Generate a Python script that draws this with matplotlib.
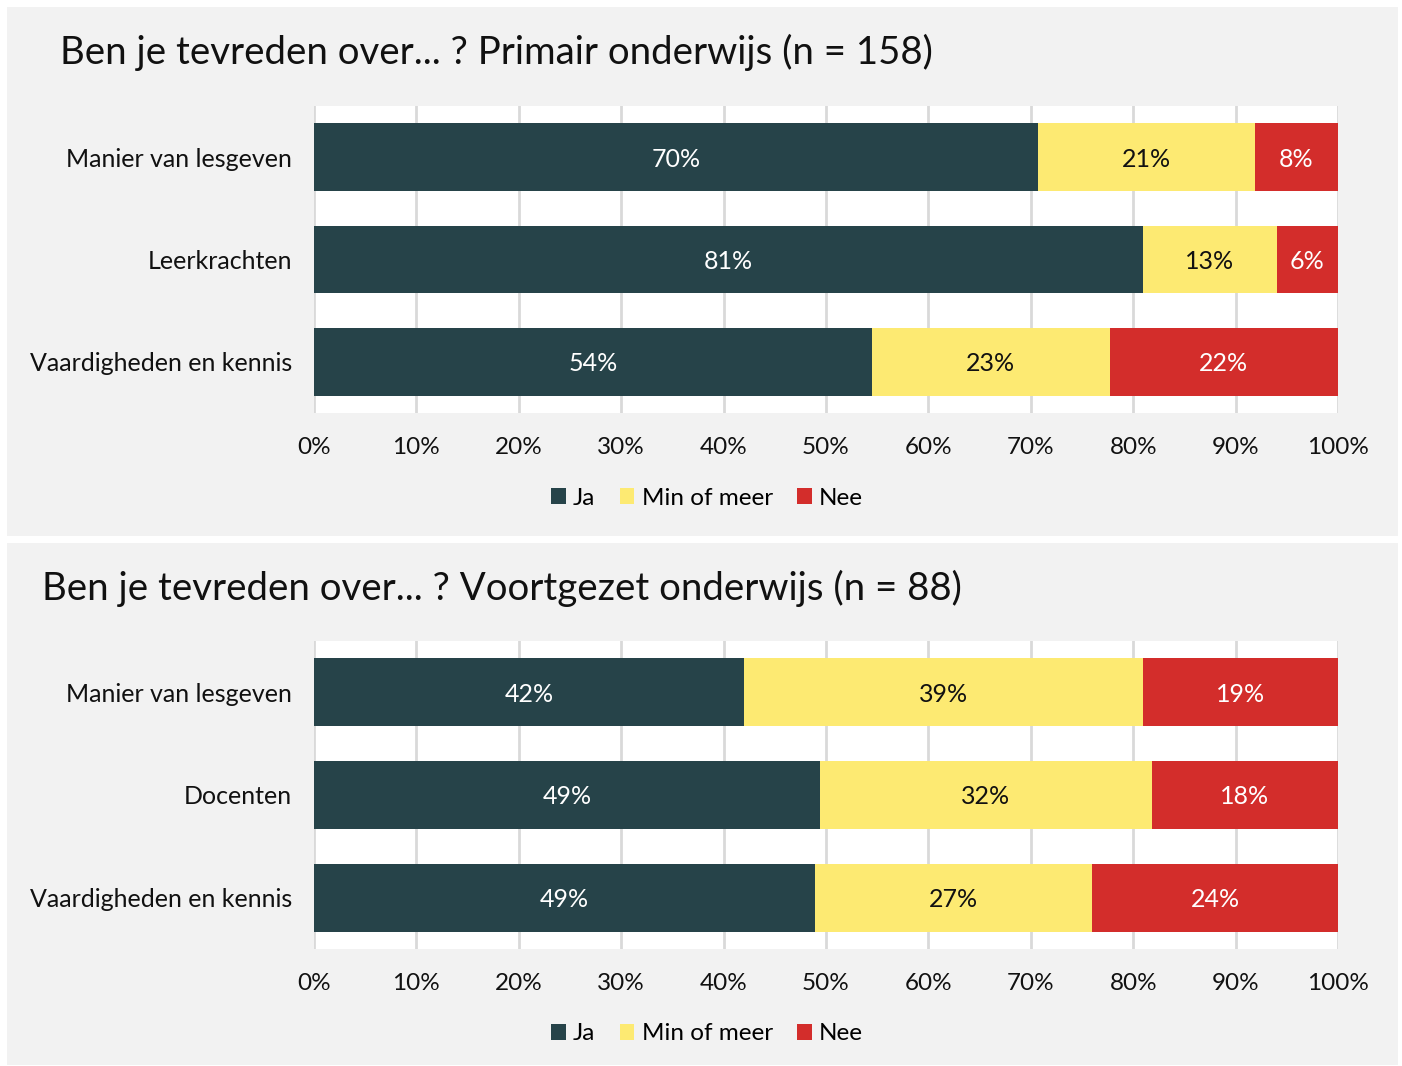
import numpy as np
import matplotlib.pyplot as plt
from matplotlib.patches import Rectangle

plt.rcParams['font.family'] = ['Lato', 'DejaVu Sans']

series = ["Ja", "Min of meer", "Nee"]
colors = ["#264349", "#fdea72", "#d32d2b"]
text_colors = ["white", "#111111", "white"]

# Primair onderwijs
po_title = "Ben je tevreden over... ? Primair onderwijs (n = 158)"
po_cats = ["Manier van lesgeven", "Leerkrachten", "Vaardigheden en kennis"]
po_ja = [70.7, 81.0, 54.5]
po_min = [21.2, 13.0, 23.2]
po_nee = [8.1, 6.0, 22.3]
po_labels = [["70%", "81%", "54%"], ["21%", "13%", "23%"], ["8%", "6%", "22%"]]

# Voortgezet onderwijs
vo_title = "Ben je tevreden over... ? Voortgezet onderwijs (n = 88)"
vo_cats = ["Manier van lesgeven", "Docenten", "Vaardigheden en kennis"]
vo_ja = [42.0, 49.4, 48.9]
vo_min = [39.0, 32.4, 27.1]
vo_nee = [19.0, 18.2, 24.0]
vo_labels = [["42%", "49%", "49%"], ["39%", "32%", "27%"], ["19%", "18%", "24%"]]

W, H = 1402, 1066
fig = plt.figure(figsize=(W / 100, H / 100), dpi=100)
fig.patch.set_facecolor("white")


def fx(px):
    return px / W


def fy(py):
    return 1 - py / H


def draw_panel(top, bottom, ax_top, ax_bottom, title, title_x, title_y, cats, vals, labels, legend_y):
    fig.patches.append(Rectangle((fx(7), fy(bottom)), fx(1398 - 7), (bottom - top) / H,
                                 transform=fig.transFigure, facecolor="#f2f2f2",
                                 edgecolor="none", zorder=-5))
    fig.text(fx(title_x), fy(title_y), title, fontsize=27.6, va="center", ha="left", color="#111111")
    ax = fig.add_axes([fx(314), fy(ax_bottom), fx(1338 - 314), (ax_bottom - ax_top) / H])
    ax.set_facecolor("white")
    y = np.arange(len(cats))
    left = np.zeros(len(cats))
    handles = []
    for i, v in enumerate(vals):
        v = np.array(v)
        b = ax.barh(y, v, left=left, height=0.66, color=colors[i], label=series[i], zorder=3)
        handles.append(b)
        for j in range(len(cats)):
            ax.text(left[j] + v[j] / 2, y[j], labels[i][j], ha="center", va="center_baseline",
                    fontsize=18, color=text_colors[i], zorder=4)
        left += v
    ax.set_xlim(0, 100)
    ax.set_ylim(len(cats) - 0.5, -0.5)
    ax.set_yticks(y)
    ax.set_yticklabels(cats, fontsize=18, color="#111111")
    ax.set_xticks(np.arange(0, 101, 10))
    ax.set_xticklabels([f"{t}%" for t in range(0, 101, 10)], fontsize=17.5, color="#111111")
    ax.tick_params(axis="both", length=0)
    ax.tick_params(axis="x", pad=17)
    ax.tick_params(axis="y", pad=16)
    ax.grid(axis="x", color="#d9d9d9", linewidth=2, zorder=1)
    for s in ax.spines.values():
        s.set_visible(False)
    fig.legend(handles, series, loc="center", bbox_to_anchor=(fx(707), fy(legend_y)),
               ncol=3, frameon=False, fontsize=17.5, handlelength=0.6, handleheight=0.6,
               handletextpad=0.3, columnspacing=1.0)
    return ax


draw_panel(7, 536, 106, 413, po_title, 60, 52, po_cats, [po_ja, po_min, po_nee], po_labels, 498)
draw_panel(543, 1065, 641, 949, vo_title, 42, 588, vo_cats, [vo_ja, vo_min, vo_nee], vo_labels, 1034)

fig.savefig("out.png", dpi=100)
